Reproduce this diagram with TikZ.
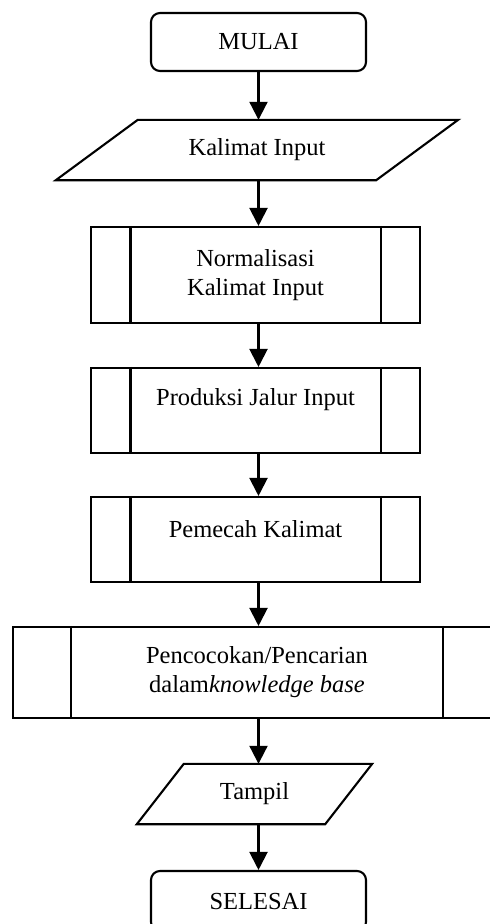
\documentclass[tikz,border=0pt]{standalone}
\usepackage{fontspec}
\setmainfont{Liberation Serif}
\usetikzlibrary{arrows.meta}

% vertical bars of a predefined-process box, #2 in from each side
\newcommand\sidebars[2]{%
  \draw[outline] ([xshift=#2]#1.north west) -- ([xshift=#2]#1.south west)
                 ([xshift=-#2]#1.north east) -- ([xshift=-#2]#1.south east);}
% parallelogram drawn around a mid-line node, #2 = half the horizontal slant
\newcommand\iooutline[2]{%
  \draw[outline] ([xshift=#2]#1.north west) -- ([xshift=#2]#1.north east)
                 -- ([xshift=-#2]#1.south east) -- ([xshift=-#2]#1.south west) -- cycle;}

\begin{document}
\begin{tikzpicture}[x=1pt,y=-1pt,
  every node/.style={font=\fontsize{24.5}{29}\selectfont, text=black, inner sep=0pt},
  outline/.style={line width=2.1pt, draw=black},
  terminal/.style={outline, rounded corners=9pt, minimum width=215pt},
  procbox/.style={outline, minimum width=329pt},
  iobox/.style={minimum height=60pt},
  caption/.style={align=center},
  flow/.style={line width=2.1pt, -{Triangle[length=18pt,width=18pt]}},
]
\useasboundingbox (0,0) rectangle (490,924);
\clip (0,0) rectangle (490,924);

% start
\node[terminal, minimum height=58pt] (mulai) at (258.5,42) {MULAI};

% input
\node[iobox, minimum width=320pt] (kalimat) at (257,150) {Kalimat Input};
\iooutline{kalimat}{41pt}

% processes
\node[procbox, minimum height=96pt, caption] (norm) at (255.5,275) {Normalisasi\\Kalimat Input};
\sidebars{norm}{40.5pt}

\node[procbox, minimum height=85pt] (prod) at (255.5,410.5) {};
\sidebars{prod}{40.5pt}
\node (prodtext) at (255.5,400) {Produksi Jalur Input};

\node[procbox, minimum height=85pt] (pecah) at (255.5,539.5) {};
\sidebars{pecah}{40.5pt}
\node (pecahtext) at (255.5,529) {Pemecah Kalimat};

\node[outline, minimum width=488pt, minimum height=91pt, caption] (cocok) at (257,672.5)
  {Pencocokan/Pencarian\\dalam\textit{knowledge base}};
\sidebars{cocok}{59pt}

% output
\node[iobox, minimum width=188pt] (tampil) at (254.5,794) {Tampil};
\iooutline{tampil}{23.5pt}

% end
\node[terminal, minimum height=60pt] (selesai) at (258.5,901) {SELESAI};

% flow lines
\draw[flow] (mulai.south) -- (kalimat.north -| mulai);
\draw[flow] (kalimat.south -| mulai) -- (norm.north -| mulai);
\draw[flow] (norm.south -| mulai) -- (prod.north -| mulai);
\draw[flow] (prod.south -| mulai) -- (pecah.north -| mulai);
\draw[flow] (pecah.south -| mulai) -- (cocok.north -| mulai);
\draw[flow] (cocok.south -| mulai) -- (tampil.north -| mulai);
\draw[flow] (tampil.south -| mulai) -- (selesai.north);
\end{tikzpicture}
\end{document}
